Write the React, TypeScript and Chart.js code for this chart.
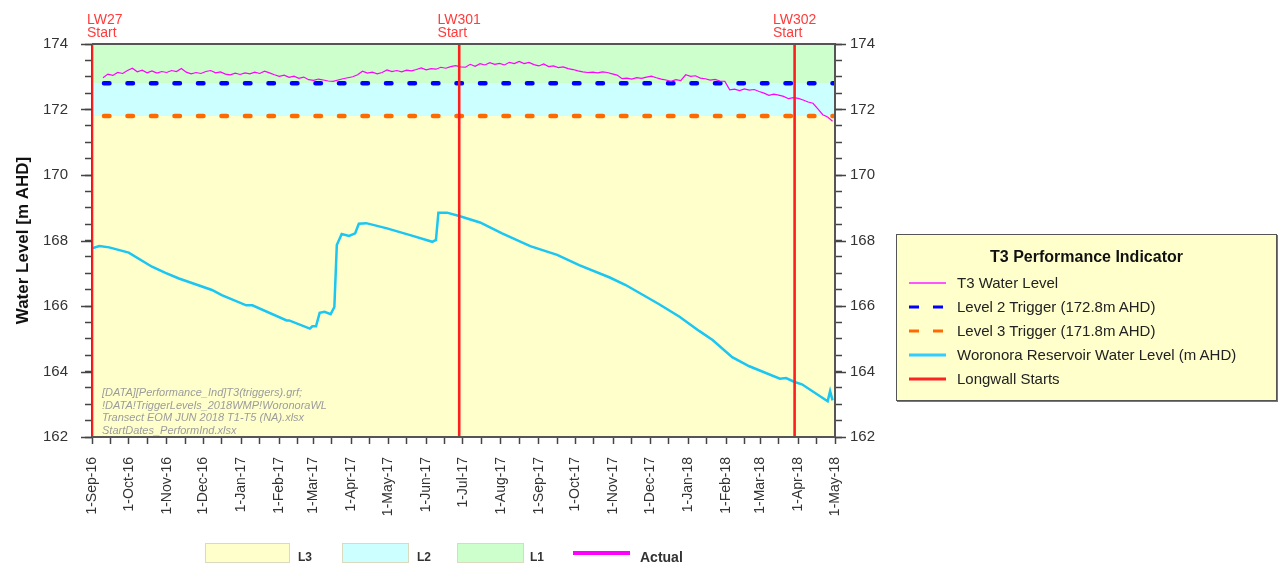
import React, { useEffect, useRef } from 'react';
import { Chart, registerables } from 'chart.js';

Chart.register(...registerables);

const FONT = '"Liberation Sans", Arial, Helvetica, sans-serif';

// ---------- data ----------
const START_DATE = '2016-09-01';
const END_DATE = '2018-05-01';

const monthTickDates = [
  '2016-09-01', '2016-10-01', '2016-11-01', '2016-12-01', '2017-01-01', '2017-02-01', '2017-03-01',
  '2017-04-01', '2017-05-01', '2017-06-01', '2017-07-01', '2017-08-01', '2017-09-01', '2017-10-01',
  '2017-11-01', '2017-12-01', '2018-01-01', '2018-02-01', '2018-03-01', '2018-04-01', '2018-05-01',
];
const monthTickLabels = [
  '1-Sep-16', '1-Oct-16', '1-Nov-16', '1-Dec-16', '1-Jan-17', '1-Feb-17', '1-Mar-17',
  '1-Apr-17', '1-May-17', '1-Jun-17', '1-Jul-17', '1-Aug-17', '1-Sep-17', '1-Oct-17',
  '1-Nov-17', '1-Dec-17', '1-Jan-18', '1-Feb-18', '1-Mar-18', '1-Apr-18', '1-May-18',
];

const Y_MIN = 162;
const Y_MAX = 174;
const Y_LABEL_STEP = 2;
const Y_MINOR_STEP = 0.5;

const bandNames = ['L3', 'L2', 'L1'];
const bandTops = [171.8, 172.8, 174];

const level2Trigger = 172.8;
const level3Trigger = 171.8;

const longwallNames = ['LW27', 'LW301', 'LW302'];
const longwallDates = ['2016-09-01', '2017-06-28', '2018-03-29'];

const reservoirDates = [
  '2016-09-01', '2016-09-07', '2016-09-15', '2016-10-01', '2016-10-20', '2016-10-31', '2016-11-11',
  '2016-12-08', '2016-12-16', '2017-01-05', '2017-01-10', '2017-02-07', '2017-02-09', '2017-02-26',
  '2017-02-28', '2017-03-03', '2017-03-06', '2017-03-10', '2017-03-15', '2017-03-18', '2017-03-20',
  '2017-03-24', '2017-03-30', '2017-04-04', '2017-04-07', '2017-04-13', '2017-04-30', '2017-05-21',
  '2017-06-06', '2017-06-09', '2017-06-11', '2017-06-18', '2017-06-28', '2017-07-15', '2017-08-02',
  '2017-08-25', '2017-09-16', '2017-10-04', '2017-10-29', '2017-11-11', '2017-12-08', '2017-12-25',
  '2018-01-10', '2018-01-21', '2018-02-06', '2018-02-20', '2018-03-17', '2018-03-22', '2018-03-29',
  '2018-04-04', '2018-04-25', '2018-04-27', '2018-04-29',
];
const reservoirLevels = [
  167.76, 167.83, 167.79, 167.63, 167.20, 167.01, 166.84,
  166.49, 166.33, 166.02, 166.02, 165.56, 165.56, 165.31,
  165.38, 165.38, 165.79, 165.82, 165.75, 165.97, 167.86,
  168.20, 168.14, 168.22, 168.51, 168.53, 168.37, 168.14,
  167.96, 168.02, 168.85, 168.85, 168.75, 168.55, 168.22,
  167.83, 167.56, 167.25, 166.87, 166.64, 166.06, 165.67,
  165.24, 164.96, 164.44, 164.16, 163.78, 163.80, 163.68,
  163.61, 163.09, 163.40, 163.12,
];

// T3 water level, one reading every 4 days from the first date
const t3FirstDate = '2016-09-10';
const t3StepDays = 4;
const t3Levels = [
  172.97, 173.08, 173.04, 173.13, 173.10, 173.19, 173.26, 173.15, 173.20, 173.12,
  173.18, 173.11, 173.16, 173.13, 173.19, 173.16, 173.25, 173.14, 173.09, 173.13,
  173.10, 173.16, 173.19, 173.12, 173.15, 173.08, 173.06, 173.11, 173.07, 173.12,
  173.09, 173.14, 173.10, 173.17, 173.12, 173.06, 173.01, 173.05, 172.98, 173.02,
  172.95, 172.99, 172.91, 172.89, 172.93, 172.90, 172.87, 172.86, 172.90, 172.94,
  172.97, 173.00, 173.06, 173.17, 173.11, 173.14, 173.09, 173.13, 173.21, 173.16,
  173.19, 173.15, 173.20, 173.18, 173.22, 173.27, 173.21, 173.25, 173.23, 173.29,
  173.26, 173.31, 173.34, 173.30, 173.29, 173.38, 173.32, 173.40, 173.36, 173.43,
  173.38, 173.41, 173.36, 173.44, 173.40, 173.47, 173.40, 173.44, 173.37, 173.33,
  173.39, 173.31, 173.33, 173.28, 173.30, 173.25, 173.22, 173.18, 173.15, 173.13,
  173.14, 173.12, 173.15, 173.13, 173.09, 173.05, 172.94, 172.96, 172.93, 172.97,
  172.95, 172.99, 173.02, 172.97, 172.93, 172.90, 172.86, 172.91, 172.88, 173.06,
  173.01, 173.03, 172.96, 172.94, 172.90, 172.92, 172.87, 172.86, 172.60, 172.62,
  172.58, 172.63, 172.59, 172.61, 172.55, 172.50, 172.43, 172.47, 172.44, 172.40,
  172.33, 172.36, 172.34, 172.29, 172.23, 172.19, 172.02, 171.84, 171.77, 171.64,
];

const legendTitle = 'T3 Performance Indicator';
const legendLabels = [
  'T3 Water Level',
  'Level 2 Trigger (172.8m AHD)',
  'Level 3 Trigger (171.8m AHD)',
  'Woronora Reservoir Water Level (m AHD)',
  'Longwall Starts',
];
const watermarkLines = [
  '[DATA][Performance_Ind]T3(triggers).grf;',
  '!DATA!TriggerLevels_2018WMP!WoronoraWL',
  'Transect EOM JUN 2018 T1-T5 (NA).xlsx',
  'StartDates_PerformInd.xlsx',
];
const yAxisTitle = 'Water Level [m AHD]';
const actualLabel = 'Actual';

// ---------- styles ----------
const COLORS = {
  bands: ['#FFFFCC', '#CCFFFF', '#CCFFCC'],
  t3: '#FF00FF',
  level2: '#0000FF',
  level3: '#FF6A00',
  reservoir: '#1AC6F2',
  longwall: '#FF1E1E',
  longwallText: '#FF3B3B',
  axis: '#555555',
  tick: '#444444',
  text: '#333333',
};

const legendSamples = [
  { color: '#FF55FF', width: 2, dash: '' },
  { color: COLORS.level2, width: 3, dash: '10 14' },
  { color: COLORS.level3, width: 3, dash: '10 14' },
  { color: '#33CCFF', width: 3, dash: '' },
  { color: '#FF2222', width: 3, dash: '' },
];

const W = 1282;
const H = 567;

if (typeof document !== 'undefined') {
  document.body.style.margin = '0';
}

const parseUTC = (s: string) => {
  const [y, m, d] = s.split('-').map(Number);
  return Date.UTC(y, m - 1, d);
};
const dayOf = (s: string) => Math.round((parseUTC(s) - parseUTC(START_DATE)) / 86400000);

export default function App() {
  const ref = useRef<HTMLCanvasElement>(null);

  useEffect(() => {
    document.body.style.margin = '0';
    const canvas = ref.current;
    if (!canvas) return;
    const xMax = dayOf(END_DATE);
    const monthDays = monthTickDates.map(dayOf);
    const labelByDay = new Map<number, string>(monthDays.map((d, i) => [d, monthTickLabels[i]]));
    const minorDays = monthDays.slice(0, -1).map((d) => d + 15);
    const xTicks = [...monthDays, ...minorDays].sort((a, b) => a - b);
    const yTicks: number[] = [];
    for (let i = 0; Y_MIN + i * Y_MINOR_STEP <= Y_MAX; i++) yTicks.push(Y_MIN + i * Y_MINOR_STEP);
    const t3Start = dayOf(t3FirstDate);

    const flat = (v: number) => [{ x: 0, y: v }, { x: xMax, y: v }];
    const vertical = (d: number) => [{ x: d, y: Y_MIN }, { x: d, y: Y_MAX }];

    const datasets: any[] = [
      ...bandTops.map((top, i) => ({
        label: bandNames[i],
        data: flat(top),
        backgroundColor: COLORS.bands[i],
        borderColor: 'rgba(0,0,0,0)',
        borderWidth: 0,
        pointRadius: 0,
        fill: i === 0 ? 'start' : '-1',
        order: 10,
      })),
      {
        label: 'Woronora Reservoir Water Level (m AHD)',
        data: reservoirDates.map((d, i) => ({ x: dayOf(d), y: reservoirLevels[i] })),
        borderColor: COLORS.reservoir,
        borderWidth: 2.5,
        pointRadius: 0,
        fill: false,
        order: 5,
      },
      {
        label: 'Level 3 Trigger',
        data: flat(level3Trigger),
        borderColor: COLORS.level3,
        borderWidth: 4.5,
        borderDash: [5.5, 18],
        borderDashOffset: 11.55,
        borderCapStyle: 'round',
        pointRadius: 0,
        fill: false,
        order: 4,
      },
      {
        label: 'Level 2 Trigger',
        data: flat(level2Trigger),
        borderColor: COLORS.level2,
        borderWidth: 4.5,
        borderDash: [5.5, 18],
        borderDashOffset: 11.55,
        borderCapStyle: 'round',
        pointRadius: 0,
        fill: false,
        order: 4,
      },
      {
        label: 'T3 Water Level',
        data: t3Levels.map((v, i) => ({ x: t3Start + i * t3StepDays, y: v })),
        borderColor: COLORS.t3,
        borderWidth: 1.2,
        pointRadius: 0,
        fill: false,
        order: 2,
      },
      ...longwallDates.map((d, i) => ({
        label: longwallNames[i],
        data: vertical(dayOf(d)),
        borderColor: COLORS.longwall,
        borderWidth: 2.6,
        pointRadius: 0,
        fill: false,
        order: 0,
      })),
    ];

    const framePlugin = {
      id: 'frame',
      beforeDatasetsDraw(chart: any) {
        const { ctx, chartArea: a } = chart;
        ctx.save();
        ctx.strokeStyle = COLORS.axis;
        ctx.lineWidth = 2;
        ctx.beginPath();
        ctx.moveTo(a.left, a.top);
        ctx.lineTo(a.left, a.bottom);
        ctx.stroke();
        ctx.restore();
      },
      afterDatasetsDraw(chart: any) {
        const { ctx, chartArea: a } = chart;
        ctx.save();
        ctx.strokeStyle = COLORS.axis;
        ctx.lineWidth = 2;
        ctx.beginPath();
        ctx.moveTo(a.left, a.top);
        ctx.lineTo(a.right, a.top);
        ctx.lineTo(a.right, a.bottom);
        ctx.lineTo(a.left, a.bottom);
        ctx.stroke();
        ctx.restore();
      },
      afterDraw(chart: any) {
        const { ctx, chartArea: a, scales } = chart;
        // longer major ticks on the value axes
        ctx.save();
        ctx.strokeStyle = COLORS.tick;
        ctx.lineWidth = 1.5;
        for (let v = Y_MIN; v <= Y_MAX; v += Y_LABEL_STEP) {
          const y = Math.round(scales.y.getPixelForValue(v)) + 0.5;
          ctx.beginPath();
          ctx.moveTo(a.left - 11, y);
          ctx.lineTo(a.left, y);
          ctx.moveTo(a.right, y);
          ctx.lineTo(a.right + 11, y);
          ctx.stroke();
        }
        ctx.restore();
        // longwall labels
        ctx.save();
        ctx.font = `14px ${FONT}`;
        ctx.fillStyle = COLORS.longwallText;
        ctx.textAlign = 'left';
        ctx.textBaseline = 'alphabetic';
        longwallNames.forEach((n, i) => {
          const px = scales.x.getPixelForValue(dayOf(longwallDates[i]));
          const w = Math.max(ctx.measureText(n).width, ctx.measureText('Start').width);
          const left = Math.max(px - w / 2, a.left - 5);
          ctx.fillText(n, left, a.top - 20);
          ctx.fillText('Start', left, a.top - 7);
        });
        ctx.restore();
      },
    };

    const yAxisBase = (position: 'left' | 'right') => ({
      type: 'linear',
      position,
      min: Y_MIN,
      max: Y_MAX,
      afterBuildTicks: (s: any) => {
        s.ticks = yTicks.map((v) => ({ value: v }));
      },
      grid: { drawOnChartArea: false, drawTicks: true, tickLength: 7, tickColor: COLORS.tick, tickWidth: 1.5 },
      border: { display: false },
      ticks: {
        color: COLORS.text,
        font: { family: FONT, size: 15 },
        padding: position === 'left' ? 17 : 8,
        autoSkip: false,
        callback: (v: any) => (Number(v) % Y_LABEL_STEP === 0 ? String(v) : ''),
      },
    });

    const chart = new Chart(canvas, {
      type: 'line',
      data: { datasets },
      plugins: [framePlugin],
      options: {
        responsive: false,
        animation: false,
        events: [],
        layout: { padding: { left: 0, right: 397, top: 44, bottom: 50 } },
        plugins: { legend: { display: false }, tooltip: { enabled: false } },
        elements: { line: { tension: 0 } },
        scales: {
          x: {
            type: 'linear',
            min: 0,
            max: xMax,
            afterBuildTicks: (s: any) => {
              s.ticks = xTicks.map((v) => ({ value: v }));
            },
            afterFit: (s: any) => {
              s.height = 80;
            },
            grid: { drawOnChartArea: false, drawTicks: true, tickLength: 7, tickColor: COLORS.tick, tickWidth: 1.5 },
            border: { display: false },
            ticks: {
              autoSkip: false,
              maxRotation: 90,
              minRotation: 90,
              padding: 13,
              color: COLORS.text,
              font: { family: FONT, size: 14 },
              callback: (v: any) => labelByDay.get(Number(v)) ?? '',
            },
          },
          y: {
            ...yAxisBase('left'),
            afterFit: (s: any) => {
              s.width = 92;
            },
            title: {
              display: true,
              text: yAxisTitle,
              color: '#111',
              font: { family: FONT, size: 17, weight: 'bold' },
              padding: { top: 13, bottom: 0 },
            },
          },
          y2: {
            ...yAxisBase('right'),
            afterFit: (s: any) => {
              s.width = 50;
            },
          },
        } as any,
      },
    } as any);

    return () => chart.destroy();
  }, []);

  return (
    <div style={{ position: 'relative', width: W, height: H, fontFamily: FONT, overflow: 'hidden' }}>
      <style>{'body{margin:0}'}</style>
      <canvas ref={ref} width={W} height={H} style={{ display: 'block' }} />

      <div
        style={{
          position: 'absolute',
          left: 102,
          top: 386,
          fontSize: 11,
          fontStyle: 'italic',
          color: '#9C9C9C',
          lineHeight: '12.7px',
          whiteSpace: 'pre',
        }}
      >
        {watermarkLines.map((l) => (
          <div key={l}>{l}</div>
        ))}
      </div>

      <div
        style={{
          position: 'absolute',
          left: 896,
          top: 234,
          width: 381,
          height: 167,
          boxSizing: 'border-box',
          background: '#FFFFCC',
          border: '1px solid #555',
          boxShadow: '1px 1px 0 #777',
        }}
      >
        <div
          style={{
            position: 'absolute',
            left: 0,
            right: 0,
            top: 12,
            textAlign: 'center',
            fontWeight: 'bold',
            fontSize: 16,
            color: '#111',
            lineHeight: '20px',
          }}
        >
          {legendTitle}
        </div>
        {legendLabels.map((l, i) => (
          <div key={l} style={{ position: 'absolute', left: 0, top: 36 + i * 24, height: 24, width: '100%' }}>
            <svg width={40} height={24} style={{ position: 'absolute', left: 11, top: 0 }}>
              <line
                x1={1}
                y1={12}
                x2={legendSamples[i].dash ? 35 : 38}
                y2={12}
                stroke={legendSamples[i].color}
                strokeWidth={legendSamples[i].width}
                strokeDasharray={legendSamples[i].dash || undefined}
              />
            </svg>
            <div
              style={{
                position: 'absolute',
                left: 60,
                top: 0,
                lineHeight: '24px',
                fontSize: 15,
                color: '#222',
                whiteSpace: 'nowrap',
              }}
            >
              {l}
            </div>
          </div>
        ))}
      </div>

      {/* bottom legend */}
      {[
        { left: 205, width: 85, labelLeft: 298 },
        { left: 342, width: 67, labelLeft: 417 },
        { left: 457, width: 67, labelLeft: 530 },
      ].map((p, i) => (
        <React.Fragment key={bandNames[i]}>
          <div
            style={{
              position: 'absolute',
              left: p.left,
              top: 543,
              width: p.width,
              height: 20,
              boxSizing: 'border-box',
              background: COLORS.bands[i],
              border: '1px solid #DADAC0',
            }}
          />
          <div
            style={{
              position: 'absolute',
              left: p.labelLeft,
              top: 549,
              fontSize: 12,
              fontWeight: 'bold',
              color: '#333',
              lineHeight: '16px',
            }}
          >
            {bandNames[i]}
          </div>
        </React.Fragment>
      ))}
      <div style={{ position: 'absolute', left: 573, top: 551, width: 57, height: 4, background: COLORS.t3 }} />
      <div
        style={{
          position: 'absolute',
          left: 640,
          top: 548,
          fontSize: 14,
          fontWeight: 'bold',
          color: '#333',
          lineHeight: '18px',
        }}
      >
        {actualLabel}
      </div>
    </div>
  );
}
